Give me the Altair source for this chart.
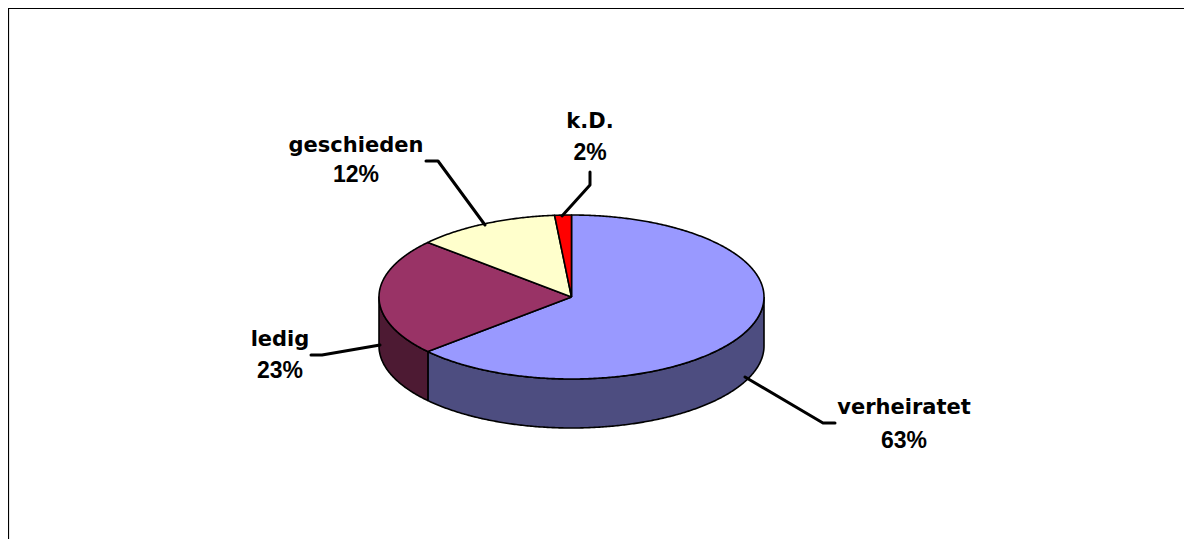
import numpy as np
import pandas as pd
import altair as alt

# Data
categories = ["verheiratet", "ledig", "geschieden", "k.D."]
shares = [63.4, 23.2, 12.0, 1.4]
pct_labels = ["63%", "23%", "12%", "2%"]
top_colors = ["#9999FF", "#993366", "#FFFFCC", "#FF0000"]
side_colors = ["#4D4D80", "#4D1A33", "#808066", "#800000"]

# Layout of the tilted pie, in page pixels
CX, CY, RX, RY, DEPTH = 571.5, 297.0, 192.5, 82.0, 49.0
W, H = 1176, 531
FRAME_POS = 8.5

name_x = [904, 280, 356, 590]
name_y = [408, 340, 146, 121.5]
pct_y = [440.5, 370.5, 174.5, 153]
leaders = [
    [(745, 377), (823, 423), (835, 423)],
    [(380, 345), (322, 355), (311, 355)],
    [(485, 225), (438, 161), (426, 161)],
    [(562, 216), (590, 185), (590, 172)],
]

x_enc = alt.X("x:Q", scale=alt.Scale(domain=[8, 8 + W], nice=False, zero=False), axis=None)
y_enc = alt.Y("y:Q", scale=alt.Scale(domain=[8 + H, 8], nice=False, zero=False), axis=None)


def rim(a0, a1, dy=0.0):
    ang = np.radians(np.linspace(a0, a1, max(2, int(abs(a1 - a0) * 2) + 1)))
    return CX + RX * np.sin(ang), CY - RY * np.cos(ang) + dy


def polygon(xs, ys, fill):
    df = pd.DataFrame({"x": xs, "y": ys, "i": range(len(xs))})
    return alt.Chart(df).mark_line(
        fill=fill, stroke="black", strokeWidth=1.6, strokeJoin="round"
    ).encode(x=x_enc, y=y_enc, order="i:Q")


layers = []

# Frame: only the top and left edges reach the picture
frame = pd.DataFrame({"x": [8 + W, FRAME_POS, FRAME_POS], "y": [FRAME_POS, FRAME_POS, 8 + H], "i": [0, 1, 2]})
layers.append(alt.Chart(frame).mark_line(color="black", strokeWidth=1.2).encode(x=x_enc, y=y_enc, order="i:Q"))

edges = np.concatenate([[0], np.cumsum(shares)]) * 3.6

# Side walls of the slices on the front half
for k in range(len(shares)):
    a0, a1 = max(edges[k], 90.0), min(edges[k + 1], 270.0)
    if a1 > a0:
        xt, yt = rim(a0, a1)
        xb, yb = rim(a1, a0, DEPTH)
        xs = np.concatenate([xt, xb, xt[:1]])
        ys = np.concatenate([yt, yb, yt[:1]])
        layers.append(polygon(xs, ys, side_colors[k]))

# Top faces
for k in range(len(shares)):
    xr, yr = rim(edges[k], edges[k + 1])
    xs = np.concatenate([[CX], xr, [CX]])
    ys = np.concatenate([[CY], yr, [CY]])
    layers.append(polygon(xs, ys, top_colors[k]))

# Leader lines
rows = [
    {"x": p[0], "y": p[1], "i": j, "cat": categories[k]}
    for k, pts in enumerate(leaders)
    for j, p in enumerate(pts)
]
layers.append(
    alt.Chart(pd.DataFrame(rows)).mark_line(
        color="black", strokeWidth=3, strokeJoin="round", strokeCap="round"
    ).encode(x=x_enc, y=y_enc, order="i:Q", detail="cat:N")
)

# Labels
names = pd.DataFrame({"x": name_x, "y": name_y, "t": categories})
pcts = pd.DataFrame({"x": name_x, "y": pct_y, "t": pct_labels})
layers.append(
    alt.Chart(names).mark_text(
        font="DejaVu Sans", fontWeight="bold", fontSize=21, color="black",
        align="center", baseline="middle"
    ).encode(x=x_enc, y=y_enc, text="t:N")
)
layers.append(
    alt.Chart(pcts).mark_text(
        font="Liberation Sans", fontWeight="bold", fontSize=23, color="black",
        align="center", baseline="middle"
    ).encode(x=x_enc, y=y_enc, text="t:N")
)

chart = (
    alt.layer(*layers)
    .properties(width=W, height=H, padding=0, autosize=alt.AutoSizeParams(type="none"), background="white")
    .configure_view(stroke=None)
)

chart.save("out.html", embed_options={"renderer": "svg", "actions": False})
